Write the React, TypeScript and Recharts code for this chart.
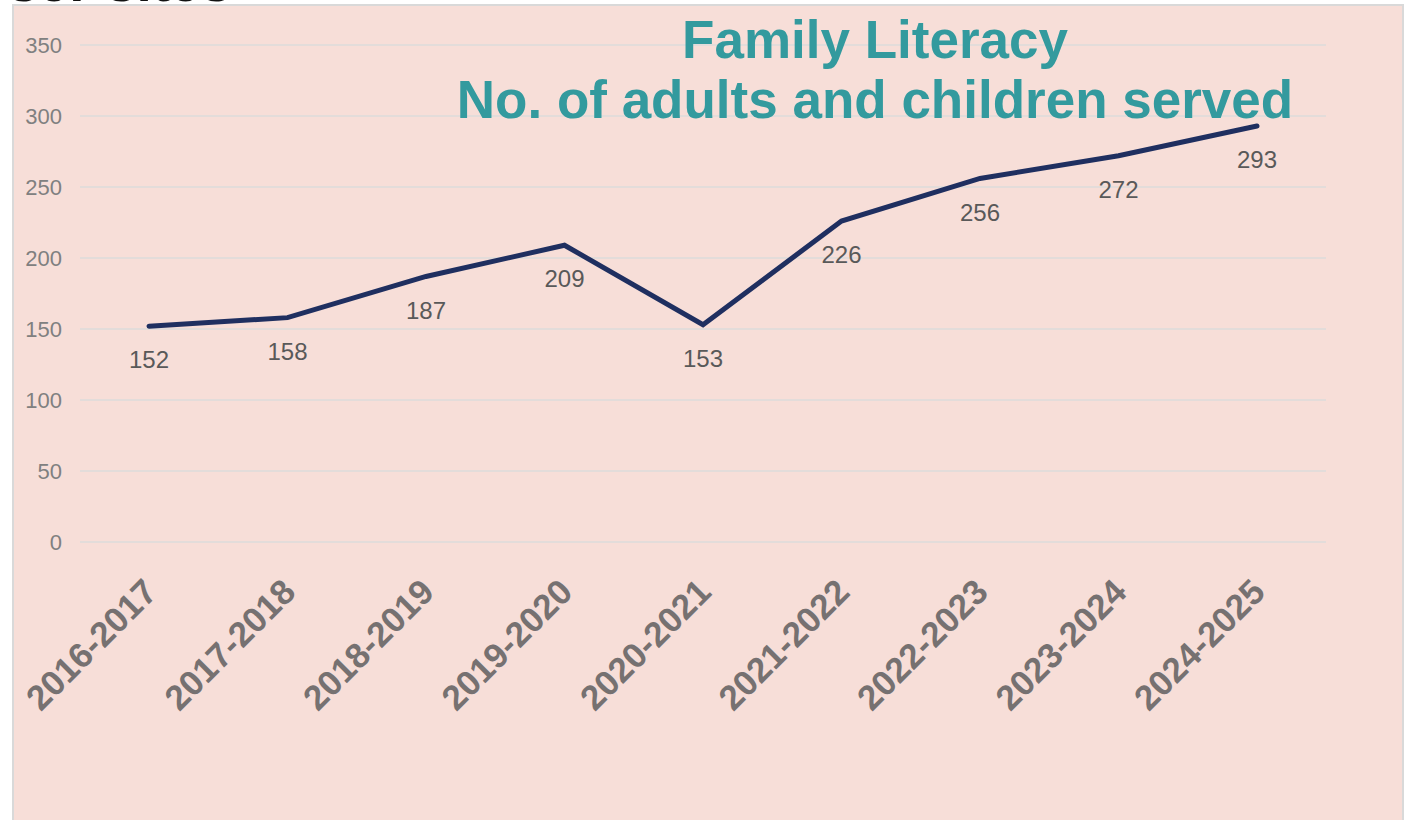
import React from "react";
import { LineChart, Line, XAxis, YAxis, CartesianGrid, LabelList } from "recharts";

const years = [
  "2016-2017",
  "2017-2018",
  "2018-2019",
  "2019-2020",
  "2020-2021",
  "2021-2022",
  "2022-2023",
  "2023-2024",
  "2024-2025",
];
const served = [152, 158, 187, 209, 153, 226, 256, 272, 293];
const yTicks = [0, 50, 100, 150, 200, 250, 300, 350];

const data = years.map((year, i) => ({ year, served: served[i] }));

const FONT = "Arial, 'Liberation Sans', sans-serif";

function YearTick(props: any) {
  const { x, y, payload } = props;
  return (
    <g transform={`translate(${x + 10},${y + 44})`}>
      <text
        transform="rotate(-45)"
        textAnchor="end"
        fill="#767171"
        fontSize={35}
        fontWeight="bold"
        fontFamily={FONT}
      >
        {payload.value}
      </text>
    </g>
  );
}

export default function App() {
  return (
    <div
      style={{
        position: "absolute",
        left: 0,
        top: 0,
        width: 1410,
        height: 820,
        background: "#fff",
        overflow: "hidden",
        fontFamily: FONT,
      }}
    >
      {/* tail of a heading that sits above the panel */}
      <div
        style={{
          position: "absolute",
          left: 8,
          top: -50,
          fontSize: 55,
          fontWeight: "bold",
          color: "#111",
          whiteSpace: "nowrap",
        }}
      >
        ser sites
      </div>
      <div
        style={{
          position: "absolute",
          left: 12,
          top: 4,
          width: 1392,
          height: 830,
          background: "#F7DED8",
          border: "2px solid #D9D9D9",
          boxSizing: "border-box",
        }}
      />
      <div style={{ position: "absolute", left: 0, top: 0 }}>
        <LineChart
          width={1410}
          height={820}
          data={data}
          margin={{ top: 45, right: 84, bottom: 0, left: 0 }}
        >
          <CartesianGrid vertical={false} stroke="#E3DCDA" strokeWidth={2} />
          <XAxis
            dataKey="year"
            axisLine={false}
            tickLine={false}
            height={278}
            interval={0}
            padding={{ left: 69, right: 69 }}
            tick={<YearTick />}
          />
          <YAxis
            width={80}
            domain={[0, 350]}
            ticks={yTicks}
            axisLine={false}
            tickLine={false}
            tickMargin={12}
            tick={{ fill: "#808080", fontSize: 22, fontFamily: FONT }}
          />
          <Line
            type="linear"
            dataKey="served"
            stroke="#1F2F60"
            strokeWidth={5}
            strokeLinecap="round"
            dot={false}
            isAnimationActive={false}
          >
            <LabelList
              dataKey="served"
              position="bottom"
              offset={25}
              fill="#595959"
              fontSize={24}
              fontFamily={FONT}
            />
          </Line>
        </LineChart>
      </div>
      <div
        style={{
          position: "absolute",
          left: 375,
          width: 1000,
          top: 10,
          textAlign: "center",
          color: "#339A9E",
          fontWeight: "bold",
          fontSize: 53,
          lineHeight: "60px",
        }}
      >
        Family Literacy
        <br />
        No. of adults and children served
      </div>
    </div>
  );
}
